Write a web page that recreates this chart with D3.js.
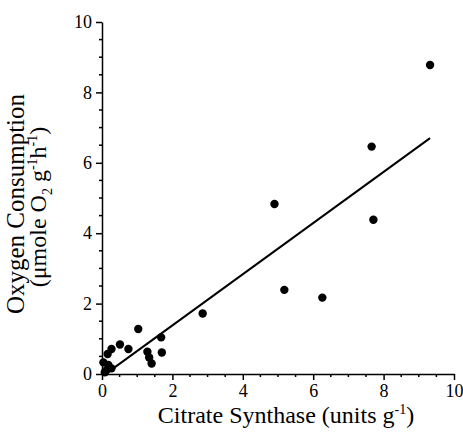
<!DOCTYPE html>
<html>
<head>
<meta charset="utf-8">
<script src="https://cdn.jsdelivr.net/npm/d3@7"></script>
</head>
<body style="margin:0">
<svg id="chart" width="463" height="437"></svg>
<script>
// citrate synthase (units g-1) vs oxygen consumption (umole O2 g-1 h-1)
var citrateSynthase = [9.32, 7.66, 7.71, 4.90, 5.18, 6.26, 2.86, 1.03, 1.68, 1.70, 0.51,
                       0.75, 0.27, 0.16, 1.29, 1.34, 1.41, 0.04, 0.18, 0.13, 0.27, 0.08];
var oxygenConsumption = [8.78, 6.46, 4.38, 4.83, 2.39, 2.17, 1.72, 1.28, 1.04, 0.61, 0.84,
                         0.71, 0.71, 0.57, 0.63, 0.47, 0.30, 0.33, 0.26, 0.11, 0.16, 0.05];
// regression line end points
var fitX = [0.32, 9.32];
var fitY = [0.16, 6.70];
var majorTicks = [0, 2, 4, 6, 8, 10];
var minorTicks = [0.5, 1, 1.5, 2.5, 3, 3.5, 4.5, 5, 5.5, 6.5, 7, 7.5, 8.5, 9, 9.5];

var svg = d3.select("#chart");

var x = d3.scaleLinear().domain([0, 10]).range([102, 454]);
var y = d3.scaleLinear().domain([0, 10]).range([374, 22]);

// minor ticks: lines only, no labels
var minorX = svg.append("g");
minorX.selectAll("line").data(minorTicks).join("line")
  .attr("x1", function(d) { return x(d); }).attr("x2", function(d) { return x(d); })
  .attr("y1", y(0)).attr("y2", y(0) + 3)
  .attr("stroke", "#000").attr("stroke-width", 1.5);
var minorY = svg.append("g");
minorY.selectAll("line").data(minorTicks).join("line")
  .attr("y1", function(d) { return y(d); }).attr("y2", function(d) { return y(d); })
  .attr("x1", x(0)).attr("x2", x(0) - 3)
  .attr("stroke", "#000").attr("stroke-width", 1.5);

var gx = svg.append("g")
  .attr("transform", "translate(0," + y(0) + ")")
  .call(d3.axisBottom(x).tickValues(majorTicks).tickSize(6).tickSizeOuter(0).tickPadding(4));
var gy = svg.append("g")
  .attr("transform", "translate(" + x(0) + ",0)")
  .call(d3.axisLeft(y).tickValues(majorTicks).tickSize(6).tickSizeOuter(0).tickPadding(4));

[gx, gy].forEach(function(g) {
  g.attr("font-family", null).attr("font-size", null);
  g.selectAll("path, line").attr("stroke", "#000").attr("stroke-width", 1.5);
  g.selectAll("text")
    .style("font-family", "'Liberation Serif'")
    .style("font-size", "18px")
    .attr("fill", "#000");
});

// fit line
var fit = fitX.map(function(d, i) { return [d, fitY[i]]; });
svg.append("path")
  .datum(fit)
  .attr("fill", "none")
  .attr("stroke", "#000")
  .attr("stroke-width", 2)
  .attr("d", d3.line().x(function(d) { return x(d[0]); }).y(function(d) { return y(d[1]); }));

// points
svg.append("g")
  .selectAll("circle")
  .data(citrateSynthase)
  .join("circle")
    .attr("cx", function(d) { return x(d); })
    .attr("cy", function(d, i) { return y(oxygenConsumption[i]); })
    .attr("r", 4.2)
    .attr("fill", "#000");

// x title
var xt = svg.append("text")
  .attr("x", 286)
  .attr("y", 423)
  .attr("text-anchor", "middle")
  .style("font-family", "'Liberation Serif'")
  .style("font-size", "24px");
xt.append("tspan").text("Citrate Synthase (units g");
xt.append("tspan").attr("dy", -9).style("font-size", "14px").text("-1");
xt.append("tspan").attr("dy", 9).text(")");

// y title, two lines
svg.append("text")
  .attr("transform", "translate(24,204) rotate(-90)")
  .attr("text-anchor", "middle")
  .style("font-family", "'Liberation Serif'")
  .style("font-size", "25px")
  .text("Oxygen Consumption");

var yt2 = svg.append("text")
  .attr("transform", "translate(46,207) rotate(-90)")
  .attr("text-anchor", "middle")
  .style("font-family", "'Liberation Serif'")
  .style("font-size", "24px");
yt2.append("tspan").text("(\u03bcmole O");
yt2.append("tspan").attr("dy", 6).style("font-size", "14px").text("2");
yt2.append("tspan").attr("dy", -6).text(" g");
yt2.append("tspan").attr("dy", -9).style("font-size", "14px").text("-1");
yt2.append("tspan").attr("dy", 9).text("h");
yt2.append("tspan").attr("dy", -9).style("font-size", "14px").text("-1");
yt2.append("tspan").attr("dy", 9).text(")");
</script>
</body>
</html>
